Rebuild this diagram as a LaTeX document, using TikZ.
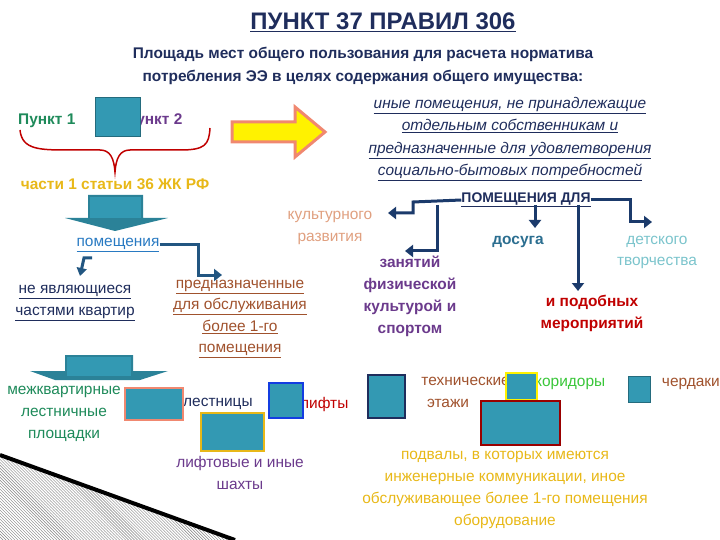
\documentclass[tikz,border=0pt]{standalone}
\usepackage{fontspec}
\setmainfont{Liberation Sans}
\usetikzlibrary{arrows.meta,patterns}
\definecolor{navy}{HTML}{1F2D5C}
\definecolor{tealb}{HTML}{3399B3}
\definecolor{grn}{HTML}{1E8A5A}
\definecolor{purp}{HTML}{6B3A8C}
\definecolor{gold}{HTML}{E8B818}
\definecolor{brn}{HTML}{A0522D}
\definecolor{peach}{HTML}{E0A080}
\definecolor{ltteal}{HTML}{7BC4CC}
\definecolor{redd}{HTML}{C00000}
\definecolor{arr}{HTML}{1B3A6B}
\definecolor{salm}{HTML}{F08870}
\begin{document}
\begin{tikzpicture}[x=1bp,y=-1bp,
  txt/.style={font=\fontsize{15.5}{18}\selectfont,inner sep=0pt,align=center},
  sq/.style={fill=tealb,line width=2.5bp},
  con/.style={draw=arr,line width=3bp,-{Triangle[length=8bp,width=12bp]}}]
\useasboundingbox (0,0) rectangle (720,540);
% decorative triangle
\fill[pattern=north west lines,pattern color=gray] (0,455) -- (235,540) -- (0,540) -- cycle;
\draw[line width=4bp,black] (0,455) -- (235,540);
% title
\node[txt,font=\bfseries\fontsize{24}{26}\selectfont,text=navy] (title) at (383,22) {\underline{ПУНКТ 37 ПРАВИЛ 306}};
\node[txt,font=\bfseries\fontsize{15.5}{23}\selectfont,text=navy] (sub) at (363,66) {Площадь мест общего пользования для расчета норматива\\ потребления ЭЭ в целях содержания общего имущества:};
% punkt
\node[txt,text=grn,anchor=west,font=\bfseries\fontsize{15.5}{18}\selectfont] (p1) at (18,121) {Пункт 1};
\node[txt,text=purp,anchor=west,font=\bfseries\fontsize{15.5}{18}\selectfont] (p2) at (125,121) {Пункт 2};
\draw[sq,draw=tealb!70!black,line width=1bp] (95,98) rectangle (140,137);
\draw[redd,line width=1.5bp] (20,130) .. controls (22,150) and (40,150) .. (70,150) -- (100,150) .. controls (110,150) and (114,158) .. (115,172) .. controls (116,158) and (120,150) .. (130,150) -- (180,150) .. controls (205,150) and (209,145) .. (210,128);
\node[txt,text=gold,font=\bfseries\fontsize{15.5}{18}\selectfont] (ch) at (115,184) {части 1 статьи 36 ЖК РФ};
% yellow arrow
\draw[fill=yellow,draw=salm,line width=3bp] (232,122) -- (295,122) -- (295,107) -- (325,132) -- (295,157) -- (295,142) -- (232,142) -- cycle;
\node[txt,font=\itshape\fontsize{15.5}{22.5}\selectfont,text=navy] (other) at (510,139) {\underline{иные помещения, не принадлежащие}\\ \underline{отдельным собственникам и}\\ \underline{предназначенные для удовлетворения}\\ \underline{социально-бытовых потребностей}};
% down arrow 1
\fill[tealb!85!black] (65,218) -- (88,218) -- (88,195) -- (143,195) -- (143,218) -- (168,218) -- (115,231) -- cycle;
\fill[tealb] (90,197) rectangle (141,218);
\node[txt,text=tealb!80!blue] (pom) at (118,245) {\underline{помещения}};
\draw[line width=3bp,arr!70!tealb,-{Triangle[length=8bp,width=12bp]}] (pom.east) -- (198,245) -- (198,275) -- (222,275);
\draw[line width=3bp,arr!70!tealb,-{Triangle[length=8bp,width=10bp]}] (92,258) -- (84,258) -- (80,276);
\node[txt,text=navy,align=center,font=\fontsize{15.5}{22}\selectfont] (nev) at (75,303) {\underline{не являющиеся}\\ \underline{частями квартир}};
\node[txt,text=brn,font=\fontsize{15.5}{21.5}\selectfont] (pred) at (240,319) {\underline{предназначенные}\\ \underline{для обслуживания}\\ \underline{более 1-го}\\ \underline{помещения}};
% down arrow 2
\fill[tealb!85!black] (30,371) -- (65,371) -- (65,355) -- (133,355) -- (133,371) -- (168,371) -- (140,380) -- (55,380) -- cycle;
\fill[tealb] (67,357) rectangle (131,376);
% pomeshcheniya dlya
\node[txt,font=\bfseries\fontsize{14}{15}\selectfont,text=navy] (pd) at (526,200) {\underline{ПОМЕЩЕНИЯ ДЛЯ}};
\node[txt,text=peach,font=\fontsize{15.5}{22}\selectfont] (kult) at (330,228) {культурного\\ развития};
\node[txt,text=purp,font=\bfseries\fontsize{15.5}{22}\selectfont] (zan) at (410,296) {занятий\\ физической\\ культурой и\\ спортом};
\node[txt,text=tealb!60!navy,font=\bfseries\fontsize{15.5}{16}\selectfont] (dos) at (518,242) {досуга};
\node[txt,text=ltteal,font=\fontsize{15.5}{21}\selectfont] (det) at (657,252) {детского\\ творчества};
\node[txt,text=redd,font=\bfseries\fontsize{15.5}{22}\selectfont] (mer) at (592,313) {и подобных\\ мероприятий};
\draw[con] (pd.west) -- (413,202) -- (413,213) -- (388,213);
\draw[con] (437,205) -- (437,251) -- (405,251);
\draw[con] (535,205) -- (535,228);
\draw[con] (578,205) -- (578,291);
\draw[con] (pd.east) -- (630,200) -- (630,222) -- (652,222);
% bottom row
\node[txt,text=grn,font=\fontsize{15.5}{22}\selectfont] (mezh) at (64,414) {межквартирные\\ лестничные\\ площадки};
\node[txt,text=navy,anchor=west] (lest) at (183,404) {лестницы};
\node[txt,text=redd,anchor=west] (lif) at (300,405) {лифты};
\node[txt,text=brn,anchor=east] (tech) at (510,381) {технические};
\node[txt,text=brn] (etaz) at (448,403) {этажи};
\node[txt,text=green!55!gray,anchor=west] (kor) at (535,384) {коридоры};
\node[txt,text=brn,anchor=east] (cher) at (720,384) {чердаки};
\draw[sq,draw=salm] (125,388) rectangle (183,420);
\draw[sq,draw=gold] (201,413) rectangle (264,451);
\draw[sq,draw=blue!60!tealb] (269,383) rectangle (303,418);
\draw[sq,draw=navy] (368,375) rectangle (405,418);
\draw[sq,draw=yellow] (506,373) rectangle (537,400);
\draw[sq,draw=redd!80!black] (481,401) rectangle (560,445);
\draw[sq,draw=tealb!70!black,line width=1bp] (628,376) rectangle (650,402);
\node[txt,text=purp,font=\fontsize{15.5}{22}\selectfont] (shaft) at (240,473) {лифтовые и иные\\ шахты};
\node[txt,text=gold,font=\fontsize{15.5}{22}\selectfont] (podv) at (505,490) {подвалы, в которых имеются\\ инженерные коммуникации, иное\\ обслуживающее более 1-го помещения\\ оборудование};
\end{tikzpicture}
\end{document}
